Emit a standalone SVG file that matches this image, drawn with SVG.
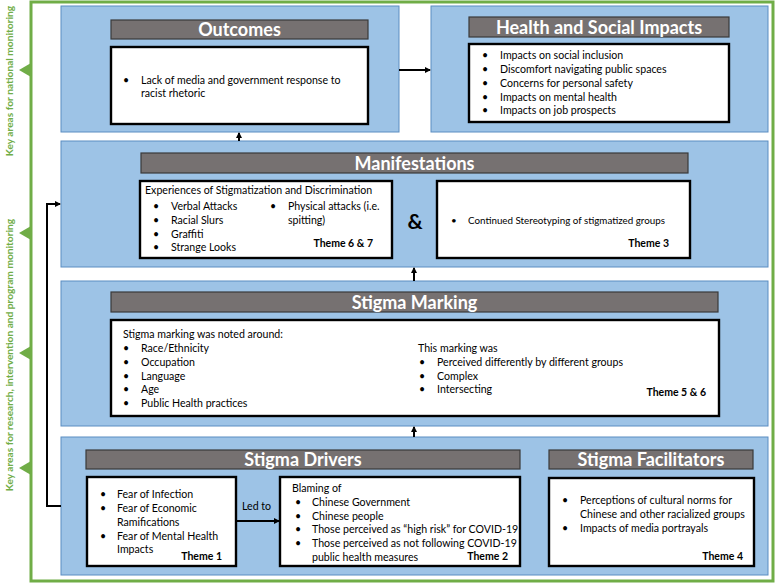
<svg xmlns="http://www.w3.org/2000/svg" width="777" height="584" viewBox="0 0 777 584">
<defs>
<style>
.panel{fill:#9DC3E6;stroke:#5B8DC2;stroke-width:1}
.bar{fill:#767171;stroke:#3A3A3A;stroke-width:1.2}
.box{fill:#fff;stroke:#000;stroke-width:2.4}
.title{font-family:Lato,"Liberation Sans",sans-serif;font-weight:700;font-size:18px;fill:#fff;text-anchor:middle}
.t{font-family:Lato,"Liberation Sans",sans-serif;font-size:10.6px;fill:#000}
.ts{font-family:Lato,"Liberation Sans",sans-serif;font-size:9.8px;fill:#000}
.th{font-family:Lato,"Liberation Sans",sans-serif;font-weight:700;font-size:10.5px;fill:#000}
.g{font-family:Lato,"Liberation Sans",sans-serif;font-weight:700;font-size:10.2px;fill:#70AD47;text-anchor:middle}
.con{fill:none;stroke:#000;stroke-width:2}
.gr{fill:#70AD47}
</style>
<marker id="ah" markerWidth="6" markerHeight="6" refX="5" refY="3" orient="auto" markerUnits="userSpaceOnUse">
<path d="M0,0 L6,3 L0,6 Z" fill="#000"/>
</marker>
</defs>
<rect width="777" height="584" fill="#fff"/>

<g id="frame">
<path d="M31,2 H773 V581 H31 Z" fill="none" stroke="#70AD47" stroke-width="3"/>
<path class="gr" d="M31,63 L19,70 L31,77 Z"/>
<path class="gr" d="M31,226 L19,233 L31,240 Z"/>
<path class="gr" d="M31,346 L19,353 L31,360 Z"/>
<path class="gr" d="M31,461 L19,468 L31,475 Z"/>
<text class="g" transform="translate(12.5,81) rotate(-90)">Key areas for national monitoring</text>
<text class="g" transform="translate(12.5,355) rotate(-90)">Key areas for research, intervention and program monitoring</text>
</g>

<g id="outcomes">
<rect class="panel" x="61" y="6" width="338" height="126"/>
<rect class="bar" x="111" y="20" width="257" height="19"/>
<text class="title" x="239.5" y="36">Outcomes</text>
<rect class="box" x="111" y="47" width="257" height="77"/>
<text class="t" x="123" y="84">•</text>
<text class="t" x="141" y="84">Lack of media and government response to</text>
<text class="t" x="141" y="97">racist rhetoric</text>
</g>

<g id="health">
<rect class="panel" x="431" y="6" width="337" height="126"/>
<rect class="bar" x="469" y="17" width="260" height="20"/>
<text class="title" x="599" y="33.5">Health and Social Impacts</text>
<rect class="box" x="469" y="44" width="260" height="78"/>
<g class="t">
<text x="482" y="59">•</text><text x="500" y="59">Impacts on social inclusion</text>
<text x="482" y="73">•</text><text x="500" y="73">Discomfort navigating public spaces</text>
<text x="482" y="86.5">•</text><text x="500" y="86.5">Concerns for personal safety</text>
<text x="482" y="100.5">•</text><text x="500" y="100.5">Impacts on mental health</text>
<text x="482" y="114">•</text><text x="500" y="114">Impacts on job prospects</text>
</g>
</g>

<g id="manifestations">
<rect class="panel" x="61" y="141" width="707" height="126"/>
<rect class="bar" x="141" y="153" width="547" height="20"/>
<text class="title" x="414.5" y="169.5">Manifestations</text>
<rect class="box" x="140" y="181" width="252" height="77"/>
<g class="t">
<text x="145" y="194">Experiences of Stigmatization and Discrimination</text>
<text x="153" y="209.5">•</text><text x="171" y="209.5">Verbal Attacks</text>
<text x="153" y="223.5">•</text><text x="171" y="223.5">Racial Slurs</text>
<text x="153" y="237.5">•</text><text x="171" y="237.5">Graffiti</text>
<text x="153" y="251">•</text><text x="171" y="251">Strange Looks</text>
<text x="270" y="209.5">•</text><text x="288" y="209.5">Physical attacks (i.e.</text>
<text x="288" y="223.5">spitting)</text>
</g>
<text class="th" x="373" y="247" text-anchor="end">Theme 6 &amp; 7</text>
<text x="415" y="229" font-family="Lato,'Liberation Sans',sans-serif" font-weight="700" font-size="21px" text-anchor="middle">&amp;</text>
<rect class="box" x="437" y="181" width="253" height="77"/>
<text class="ts" x="451" y="223.5">•</text>
<text class="ts" x="468" y="223.5">Continued Stereotyping of stigmatized groups</text>
<text class="th" x="669" y="247" text-anchor="end">Theme 3</text>
</g>

<g id="stigma-marking">
<rect class="panel" x="61" y="281" width="707" height="145"/>
<rect class="bar" x="111" y="292" width="607" height="20"/>
<text class="title" x="414.5" y="308.5">Stigma Marking</text>
<rect class="box" x="111" y="320" width="608" height="96"/>
<g class="t">
<text x="123" y="337.5">Stigma marking was noted around:</text>
<text x="123" y="351.5">•</text><text x="141" y="351.5">Race/Ethnicity</text>
<text x="123" y="365.5">•</text><text x="141" y="365.5">Occupation</text>
<text x="123" y="379.5">•</text><text x="141" y="379.5">Language</text>
<text x="123" y="392.5">•</text><text x="141" y="392.5">Age</text>
<text x="123" y="406.5">•</text><text x="141" y="406.5">Public Health practices</text>
<text x="418" y="351.5">This marking was</text>
<text x="419" y="365.5">•</text><text x="437" y="365.5">Perceived differently by different groups</text>
<text x="419" y="379.5">•</text><text x="437" y="379.5">Complex</text>
<text x="419" y="392.5">•</text><text x="437" y="392.5">Intersecting</text>
</g>
<text class="th" x="706" y="396" text-anchor="end">Theme 5 &amp; 6</text>
</g>

<g id="drivers-facilitators-panel">
<rect class="panel" x="61" y="437" width="707" height="138"/>
</g>

<g id="stigma-drivers">
<rect class="bar" x="86" y="450" width="434" height="19"/>
<text class="title" x="303" y="466">Stigma Drivers</text>
<rect class="box" x="87" y="477" width="149" height="89"/>
<g class="t">
<text x="100" y="497.5">•</text><text x="117" y="497.5">Fear of Infection</text>
<text x="100" y="511.5">•</text><text x="117" y="511.5">Fear of Economic</text>
<text x="117" y="525.5">Ramifications</text>
<text x="100" y="539.5">•</text><text x="117" y="539.5">Fear of Mental Health</text>
<text x="117" y="552.5">Impacts</text>
</g>
<text class="th" x="222" y="559.5" text-anchor="end">Theme 1</text>
<rect class="box" x="280" y="477" width="240" height="89"/>
<g class="t">
<text x="292" y="491.5">Blaming of</text>
<text x="295" y="505.5">•</text><text x="312" y="505.5">Chinese Government</text>
<text x="295" y="519.5">•</text><text x="312" y="519.5">Chinese people</text>
<text x="295" y="532.5">•</text><text x="312" y="532.5">Those perceived as “high risk” for COVID-19</text>
<text x="295" y="546.5">•</text><text x="312" y="546.5">Those perceived as not following COVID-19</text>
<text x="312" y="560.5">public health measures</text>
</g>
<text class="th" x="508" y="559.5" text-anchor="end">Theme 2</text>
</g>

<g id="stigma-facilitators">
<rect class="bar" x="549" y="450" width="204" height="19"/>
<text class="title" x="651" y="466">Stigma Facilitators</text>
<rect class="box" x="549" y="478" width="205" height="88"/>
<g class="t">
<text x="562" y="503.5">•</text><text x="580" y="503.5">Perceptions of cultural norms for</text>
<text x="580" y="517.5">Chinese and other racialized groups</text>
<text x="562" y="531.5">•</text><text x="580" y="531.5">Impacts of media portrayals</text>
</g>
<text class="th" x="743" y="559.5" text-anchor="end">Theme 4</text>
</g>

<g id="connectors">
<line class="con" x1="399" y1="70" x2="430" y2="70" marker-end="url(#ah)"/>
<line class="con" x1="239" y1="141" x2="239" y2="133" marker-end="url(#ah)"/>
<line class="con" x1="414" y1="281" x2="414" y2="268" marker-end="url(#ah)"/>
<line class="con" x1="414" y1="437" x2="414" y2="427" marker-end="url(#ah)"/>
<line class="con" x1="236" y1="521" x2="279" y2="521" marker-end="url(#ah)"/>
<path class="con" d="M61,506 H47 V204 H60" marker-end="url(#ah)"/>
<text class="t" x="242" y="509.5">Led to</text>
</g>
</svg>
